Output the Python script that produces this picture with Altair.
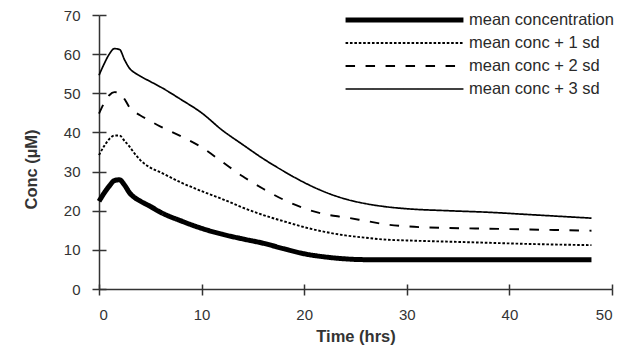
import altair as alt
import pandas as pd

times = [0, 0.5, 1, 1.5, 2, 2.5, 3, 3.5, 4, 5, 6, 8, 10, 12, 14, 16, 18, 20, 22, 24, 26, 28, 30, 34, 38, 42, 48]
mean_conc = [22.4, 24.5, 26.3, 27.7, 27.9, 26.5, 24.5, 23.3, 22.5, 21.1, 19.6, 17.4, 15.5, 14.0, 12.8, 11.7, 10.3, 9.0, 8.2, 7.7, 7.5, 7.5, 7.5, 7.5, 7.5, 7.5, 7.5]
plus1 = [34.2, 36.5, 38.3, 39.2, 39.2, 37.8, 36.3, 34.5, 33.0, 31.0, 29.8, 27.2, 25.0, 23.0, 20.8, 18.9, 17.3, 15.8, 14.6, 13.7, 13.1, 12.6, 12.4, 12.1, 11.8, 11.5, 11.2]
plus2 = [44.8, 47.5, 49.5, 50.3, 50.2, 48.5, 46.3, 45.2, 44.4, 42.9, 41.5, 39.0, 36.2, 32.5, 28.8, 25.6, 22.8, 20.6, 19.1, 18.3, 17.4, 16.5, 16.0, 15.6, 15.4, 15.2, 14.9]
plus3 = [54.6, 57.5, 60.0, 61.4, 61.2, 58.5, 56.3, 55.2, 54.4, 53.0, 51.6, 48.4, 45.0, 40.6, 36.9, 33.3, 30.1, 27.2, 24.8, 23.0, 21.8, 21.0, 20.5, 20.0, 19.6, 19.0, 18.1]

series_names = ["mean concentration", "mean conc + 1 sd", "mean conc + 2 sd", "mean conc + 3 sd"]
series_values = [mean_conc, plus1, plus2, plus3]
x_ticks = [0, 10, 20, 30, 40, 50]
y_ticks = [0, 10, 20, 30, 40, 50, 60, 70]

rows = []
for name, vals in zip(series_names, series_values):
    for t, v in zip(times, vals):
        rows.append({"time": t, "conc": v, "series": name})
df = pd.DataFrame(rows)

W, H = 513, 274
FONT = "Liberation Sans"
AX = "#333333"

legend = alt.Legend(
    title=None, orient="none", legendX=244, legendY=-3,
    symbolSize=13900, symbolType="stroke", clipHeight=16, rowPadding=6,
    labelOffset=3, labelFontSize=16.5, labelFont=FONT, labelColor="#2a2a2a",
    symbolStrokeColor="black", padding=0, labelLimit=300,
)

xscale = alt.Scale(domain=[0, 50], nice=False)
yscale = alt.Scale(domain=[0, 70], nice=False)

lines = alt.Chart(df).mark_line(color="black", interpolate="monotone").encode(
    x=alt.X("time:Q", scale=xscale, axis=alt.Axis(
        values=x_ticks, title="Time (hrs)", grid=False, tickSize=6, tickWidth=1.5,
        domainWidth=1.5, domainColor=AX, tickColor=AX, labelPadding=12,
        labelFontSize=15, labelFont=FONT, labelColor=AX, titleFont=FONT,
        titleFontSize=16.5, titleFontWeight="bold", titleColor=AX, titleY=39)),
    y=alt.Y("conc:Q", scale=yscale, axis=alt.Axis(
        values=y_ticks, title="Conc (µM)", grid=False, tickSize=7, tickWidth=1.5,
        domainWidth=1.5, domainColor=AX, tickColor=AX, labelPadding=12,
        labelFontSize=15, labelFont=FONT, labelColor=AX, titleFont=FONT,
        titleFontSize=16.5, titleFontWeight="bold", titleColor=AX,
        titleX=-60, titleY=154)),
    strokeDash=alt.StrokeDash("series:N", sort=series_names,
        scale=alt.Scale(domain=series_names, range=[[1, 0], [2.6, 1.8], [9.5, 10.5], [1, 0]]),
        legend=legend),
    strokeWidth=alt.StrokeWidth("series:N", sort=series_names,
        scale=alt.Scale(type="ordinal", domain=series_names, range=[5, 1.9, 1.9, 1.7]),
        legend=legend),
    order=alt.Order("time:Q"),
)

ghost = alt.Chart(df).mark_line(opacity=0).encode(
    x=alt.X("time:Q", scale=xscale, axis=alt.Axis(
        orient="top", offset=-H, values=x_ticks, labels=False, domain=False,
        title=None, grid=False, tickSize=5, tickWidth=1.5, tickColor=AX)),
    y=alt.Y("conc:Q", scale=yscale, axis=alt.Axis(
        orient="right", offset=-W, values=y_ticks, labels=False, domain=False,
        title=None, grid=False, tickSize=7, tickWidth=1.5, tickColor=AX)),
    detail="series:N",
)

chart = alt.layer(lines, ghost).resolve_axis(x="independent", y="independent").properties(
    width=W, height=H,
    autosize=alt.AutoSizeParams(type="none"),
    padding={"left": 91, "top": 7, "right": 18, "bottom": 60},
    background="white",
).configure_view(stroke=None)

chart.save("out.html", embed_options={"renderer": "svg", "actions": False})
